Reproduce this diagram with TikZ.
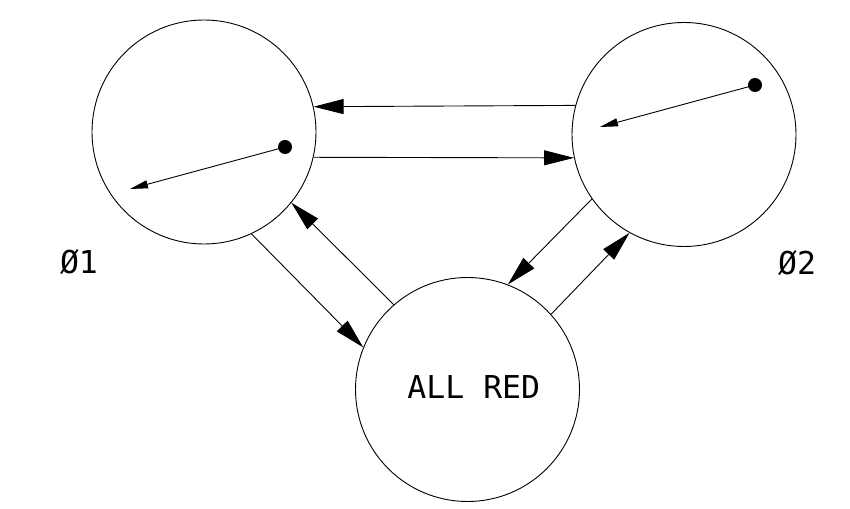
\documentclass[tikz,border=0pt]{standalone}
\usepackage{fontspec}
\newfontfamily\plotfont{DejaVu Sans Mono}
\usetikzlibrary{arrows.meta}
\begin{document}
\begin{tikzpicture}[x=1pt,y=1pt,
  state/.style={draw, circle, minimum size=224pt, inner sep=0pt, line width=0.9pt},
  bigarrow/.style={line width=0.9pt, -{Triangle[length=30pt,width=15pt]}},
  smallarrow/.style={line width=0.9pt, -{Triangle[length=18pt,width=8pt]}},
  dotnode/.style={circle, fill=black, minimum size=14pt, inner sep=0pt},
  lbl/.style={font=\plotfont\fontsize{31.5}{31.5}\selectfont, inner sep=0pt}]
\useasboundingbox (0,0) rectangle (850,508);
\node[state] (L) at (204,376) {};
\node[state] (R) at (684,373.5) {};
\node[state] (B) at (467.5,118.5) {};
\node[lbl] (allred) at (473.8,121.3) {ALL RED};
\node[lbl] (phi1) at (79,246) {Ø1};
\node[lbl] (phi2) at (797,245) {Ø2};
% horizontal arrows
\draw[bigarrow] (R.165.6) -- (L.13.05);
\draw[bigarrow] (L.-13.8) -- (R.192.8);
% diagonal arrows
\draw[bigarrow] (L.-65.9) -- (B.158.7);
\draw[bigarrow] (B.131.3) -- (L.-39.1);
\draw[bigarrow] (R.215.4) -- (B.69.7);
\draw[bigarrow] (B.42.1) -- (R.241.7);
% inner pointers
\node[dotnode] (dL) at (285,361) {};
\coordinate (tL) at (130,319);
\draw[smallarrow] (dL.center) -- (tL);
\node[dotnode] (dR) at (755,423) {};
\coordinate (tR) at (600,381);
\draw[smallarrow] (dR.center) -- (tR);
\end{tikzpicture}
\end{document}
